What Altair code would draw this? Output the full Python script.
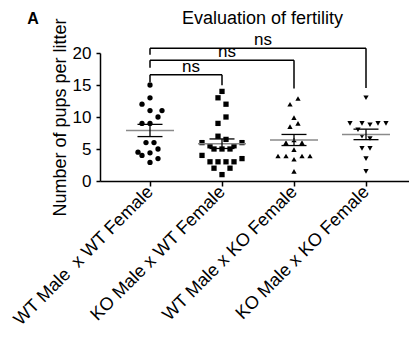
import json
import altair as alt
import pandas as pd

FONT = "Liberation Sans"

groups = ["WT Male\u00a0 x WT Female", "KO Male x WT Female",
          "WT Male x KO Female", "KO Male x KO Female"]
shapes = ["circle", "square", "triangle-up", "triangle-down"]

# values per group (pups per litter) and horizontal slot (scatter spread) of each point
g1_values = [15, 13, 12, 11, 11, 10, 9, 9, 6, 6, 5, 4.5, 4.0, 4.4, 2.9, 3.5]
g1_slots = [0, 0, -2, 0, 3, 2, -2, 0, -1, 1, 2, -3, -2, 0, 0, 2]
g2_values = [14, 13, 12, 10, 9, 7, 6.5, 6, 6, 5.5, 5.5, 5, 5, 5, 4, 3, 3, 3, 3, 3.5, 2, 2, 1]
g2_slots = [0, -1, 1, 1, -1, -1, 1, -5, 5, -3, 3, -2, 0, 2, -5, -3, -1, 1, 3, 5, -2, 2, 0]
g3_values = [12.9, 12, 9.9, 8.5, 9.0, 6, 6.4, 6, 4.9, 3.9, 3.9, 3.4, 3.9, 3.9, 1.5]
g3_slots = [1, -1, 0, -1, 1, -2, 0, 2, 0, -4, -2, 0, 2, 4, 0]
g4_values = [13, 9, 9, 8.8, 9, 9, 8, 7.0, 6.65, 5.1, 5.1, 3.5, 1.5]
g4_slots = [0, -4, -1, 1, 3, 5, -2, -1, 1, -1, 1, 0, 0]

# significance brackets
br_left = [0, 0, 0]
br_right = [1, 2, 3]
br_top = [16.62, 18.85, 20.76]
br_left_bottom = [15.47, 17.71, 19.73]
br_right_bottom = [14.95, 14.44, 14.53]
br_label = ["ns", "ns", "ns"]

rows = []
for gi, (vals, slots) in enumerate([(g1_values, g1_slots), (g2_values, g2_slots),
                                    (g3_values, g3_slots), (g4_values, g4_slots)]):
    for v, s in zip(vals, slots):
        rows.append({"g": gi, "v": v, "s": s, "shape": shapes[gi]})
df = pd.DataFrame(rows)

bdf = pd.DataFrame({"left": br_left, "right": br_right, "top": br_top,
                    "lb": br_left_bottom, "rb": br_right_bottom, "label": br_label})

xscale = alt.Scale(domain=[-50 / 72, 259 / 72], nice=False, zero=False)
yscale = alt.Scale(domain=[0, 20], nice=False, zero=False)

label_expr = json.dumps(groups, ensure_ascii=False) + "[datum.value]"

xaxis = alt.Axis(values=[0, 1, 2, 3], labelExpr=label_expr, labelAngle=-45,
                 labelAlign="right", labelBaseline="middle", labelFontSize=18,
                 labelFont=FONT, labelColor="black", tickSize=5, tickColor="black",
                 tickWidth=1.5, domainColor="black", domainWidth=1.5, grid=False,
                 title=None, labelPadding=3, labelOverlap=False, labelBound=False,
                 labelLimit=400)
yaxis = alt.Axis(values=[0, 5, 10, 15, 20], title="Number of pups per litter",
                 titleFontSize=18, titleFontWeight="normal", titleFont=FONT,
                 titleColor="black", labelFontSize=17, labelFont=FONT,
                 labelColor="black", tickSize=4, tickColor="black", tickWidth=1.5,
                 domainColor="black", domainWidth=1.5, grid=False,
                 labelPadding=5, titlePadding=3, labelOverlap=False,
                 labelBound=False, labelFlush=False)


def X(field):
    return alt.X(field, scale=xscale, axis=xaxis)


def Y(field):
    return alt.Y(field, scale=yscale, axis=yaxis)


base = alt.Chart(df)

points = base.transform_calculate(
    xp="datum.g + datum.s * 4 / 72"
).mark_point(filled=True, size=28, opacity=1, strokeWidth=0, color="black").encode(
    x=X("xp:Q"), y=Y("v:Q"),
    shape=alt.Shape("shape:N", scale=None),
)

stats = base.transform_aggregate(
    m="mean(v)", se="stderr(v)", groupby=["g"]
).transform_calculate(lo="datum.m - datum.se", hi="datum.m + datum.se")

mean_line = stats.mark_tick(orient="horizontal", size=48, thickness=1.5,
                            color="#8a8a8a", opacity=1).encode(
    x=X("g:Q"), y=Y("m:Q"))

sem_rule = stats.mark_rule(color="black", strokeWidth=1.3).encode(
    x=X("g:Q"), y=Y("lo:Q"), y2="hi:Q")

sem_caps = stats.transform_fold(["lo", "hi"], as_=["k", "val"]).mark_tick(
    orient="horizontal", size=25, thickness=1.3, color="black", opacity=1).encode(
    x=X("g:Q"), y=Y("val:Q"))

bbase = alt.Chart(bdf)
br_h = bbase.mark_rule(color="black", strokeWidth=1.5).encode(
    x=X("left:Q"), x2="right:Q", y=Y("top:Q"))
br_l = bbase.mark_rule(color="black", strokeWidth=1.5).encode(
    x=X("left:Q"), y=Y("top:Q"), y2="lb:Q")
br_r = bbase.mark_rule(color="black", strokeWidth=1.5).encode(
    x=X("right:Q"), y=Y("top:Q"), y2="rb:Q")
br_t = bbase.transform_calculate(mid="(datum.left + datum.right) / 2").mark_text(
    baseline="alphabetic", dy=-3, dx=5, fontSize=17, font=FONT, color="black").encode(
    x=X("mid:Q"), y=Y("top:Q"), text="label:N")

panel = alt.Chart(pd.DataFrame({"t": ["A"]})).mark_text(
    fontSize=16, fontWeight="bold", font=FONT, color="black", baseline="middle",
    align="center").encode(text="t:N", x=alt.value(-67), y=alt.value(-34))

chart = alt.layer(
    points, mean_line, sem_rule, sem_caps, br_h, br_l, br_r, br_t, panel
).properties(
    width=309, height=128,
    title=alt.TitleParams("Evaluation of fertility", fontSize=18, fontWeight="normal",
                          font=FONT, color="black", anchor="middle", dx=8, offset=-17),
    autosize=alt.AutoSizeParams(type="none"),
    padding={"left": 100, "top": 53, "right": 0, "bottom": 160},
    background="white",
).configure_view(stroke=None)

chart.save("out.html", embed_options={"renderer": "svg", "actions": False})
